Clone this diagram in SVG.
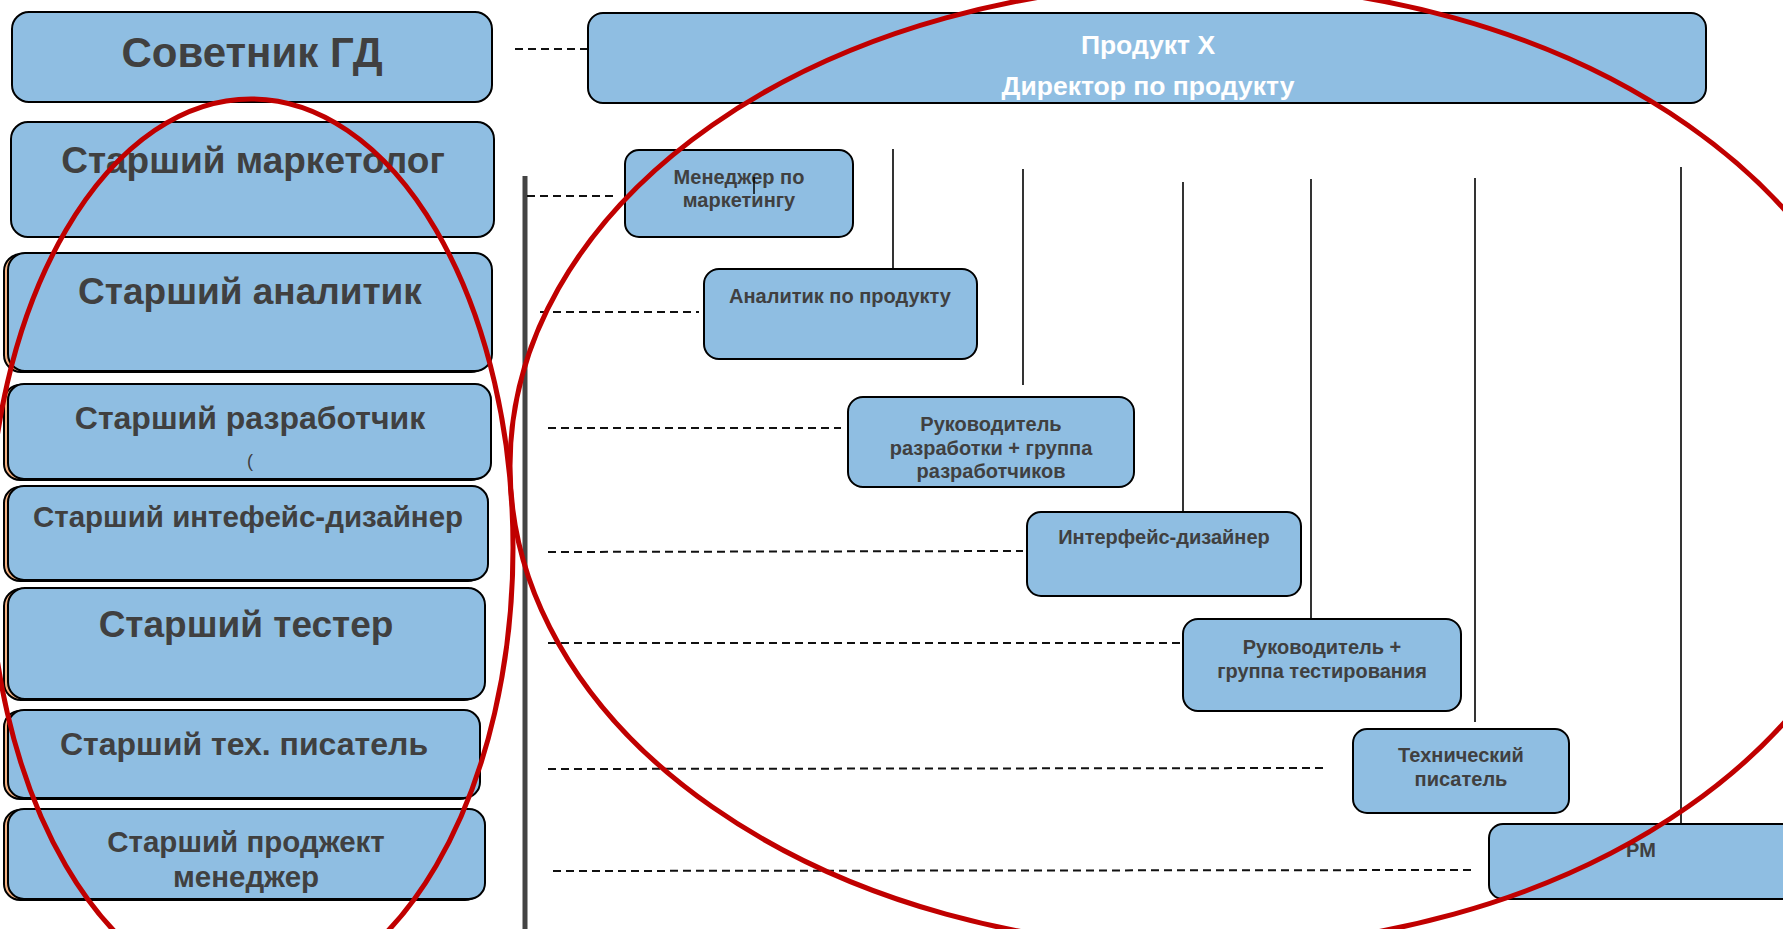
<svg xmlns="http://www.w3.org/2000/svg" width="1783" height="929" viewBox="0 0 1783 929">
<style>
.box{fill:#8FBEE2;stroke:#000;stroke-width:2}
.sh{fill:#F4B183;stroke:#000;stroke-width:2}
.t{font-family:"Liberation Sans",Arial,sans-serif;font-weight:bold;fill:#404040;text-anchor:middle}
.w{font-family:"Liberation Sans",Arial,sans-serif;font-weight:bold;fill:#fff;text-anchor:middle;font-size:26.5px}
.s{font-size:20px}
.dash{stroke:#111;stroke-width:2;stroke-dasharray:8 5;fill:none}
.vl{stroke:#000;stroke-width:1.6;fill:none}
.red{fill:none;stroke:#C00000;stroke-width:5}
</style>
<rect width="1783" height="929" fill="#fff"/>
<g id="connectors">
<line x1="525" y1="176" x2="525" y2="929" stroke="#444" stroke-width="5"/>
<line class="dash" x1="515" y1="49" x2="603" y2="49"/>
<line class="dash" x1="527" y1="196" x2="614" y2="196"/>
<line class="dash" x1="540" y1="312" x2="699" y2="312"/>
<line class="dash" x1="548" y1="428" x2="841" y2="428"/>
<line class="dash" x1="548" y1="552" x2="1023" y2="551"/>
<line class="dash" x1="548" y1="643" x2="1183" y2="643"/>
<line class="dash" x1="548" y1="769" x2="1326" y2="768"/>
<line class="dash" x1="553" y1="871" x2="1472" y2="870"/>
<line class="vl" x1="893" y1="149" x2="893" y2="269"/>
<line class="vl" x1="1023" y1="169" x2="1023" y2="385"/>
<line class="vl" x1="1183" y1="182" x2="1183" y2="512"/>
<line class="vl" x1="1311" y1="179" x2="1311" y2="619"/>
<line class="vl" x1="1475" y1="178" x2="1475" y2="722"/>
<line class="vl" x1="1681" y1="167" x2="1681" y2="824"/>
</g>
<g id="n-sovetnik"><rect class="box" x="12" y="12" width="480" height="90" rx="17"/><text class="t" x="252" y="67" font-size="42">Советник ГД</text></g>
<g id="n-marketolog"><rect class="box" x="11" y="122" width="483" height="115" rx="17"/><text class="t" x="253" y="173" font-size="37">Старший маркетолог</text></g>
<g id="n-analitik"><rect class="sh" x="4" y="254" width="484" height="118" rx="17"/><rect class="box" x="8" y="253" width="484" height="118" rx="17"/><text class="t" x="250" y="304" font-size="37">Старший аналитик</text></g>
<g id="n-razrab"><rect class="sh" x="4" y="385" width="483" height="95" rx="16"/><rect class="box" x="8" y="384" width="483" height="95" rx="16"/><text class="t" x="250" y="429" font-size="32">Старший разработчик</text><text x="250" y="467" font-family="Liberation Sans,Arial,sans-serif" font-size="18" fill="#404040" text-anchor="middle">(</text></g>
<g id="n-designer"><rect class="sh" x="4" y="487" width="480" height="94" rx="16"/><rect class="box" x="8" y="486" width="480" height="94" rx="16"/><text class="t" x="248" y="527" font-size="29.5">Старший интефейс-дизайнер</text></g>
<g id="n-tester"><rect class="sh" x="4" y="589" width="477" height="111" rx="17"/><rect class="box" x="8" y="588" width="477" height="111" rx="17"/><text class="t" x="246" y="637" font-size="37">Старший тестер</text></g>
<g id="n-writer"><rect class="sh" x="4" y="711" width="472" height="88" rx="16"/><rect class="box" x="8" y="710" width="472" height="88" rx="16"/><text class="t" x="244" y="755" font-size="32">Старший тех. писатель</text></g>
<g id="n-pm-senior"><rect class="sh" x="4" y="810" width="477" height="90" rx="16"/><rect class="box" x="8" y="809" width="477" height="90" rx="16"/><text class="t" x="246" y="852" font-size="29.5">Старший проджект</text><text class="t" x="246" y="887" font-size="29.5">менеджер</text></g>
<g id="n-product"><rect class="box" x="588" y="13" width="1118" height="90" rx="15"/><text class="w" x="1148" y="54">Продукт X</text><text class="w" x="1148" y="95">Директор по продукту</text></g>
<g id="n-mgr"><rect class="box" x="625" y="150" width="228" height="87" rx="14"/><text class="t s" x="739" y="184">Менеджер по</text><text class="t s" x="739" y="207">маркетингу</text><line x1="754" y1="177" x2="754" y2="194" stroke="#000" stroke-width="1.5"/></g>
<g id="n-analyst"><rect class="box" x="704" y="269" width="273" height="90" rx="15"/><text class="t s" x="840" y="303">Аналитик по продукту</text></g>
<g id="n-dev"><rect class="box" x="848" y="397" width="286" height="90" rx="15"/><text class="t s" x="991" y="431">Руководитель</text><text class="t s" x="991" y="454.5">разработки + группа</text><text class="t s" x="991" y="478">разработчиков</text></g>
<g id="n-ui"><rect class="box" x="1027" y="512" width="274" height="84" rx="14"/><text class="t s" x="1164" y="544">Интерфейс-дизайнер</text></g>
<g id="n-test"><rect class="box" x="1183" y="619" width="278" height="92" rx="15"/><text class="t s" x="1322" y="654">Руководитель +</text><text class="t s" x="1322" y="678">группа тестирования</text></g>
<g id="n-tw"><rect class="box" x="1353" y="729" width="216" height="84" rx="14"/><text class="t s" x="1461" y="762">Технический</text><text class="t s" x="1461" y="786">писатель</text></g>
<g id="n-pm"><rect class="box" x="1489" y="824" width="330" height="75" rx="14"/><text class="t s" x="1641" y="857">PM</text></g>
<g id="highlights">
<ellipse class="red" cx="251" cy="548" rx="262" ry="449"/>
<ellipse class="red" cx="1200" cy="466" rx="690" ry="482"/>
</g>
</svg>
